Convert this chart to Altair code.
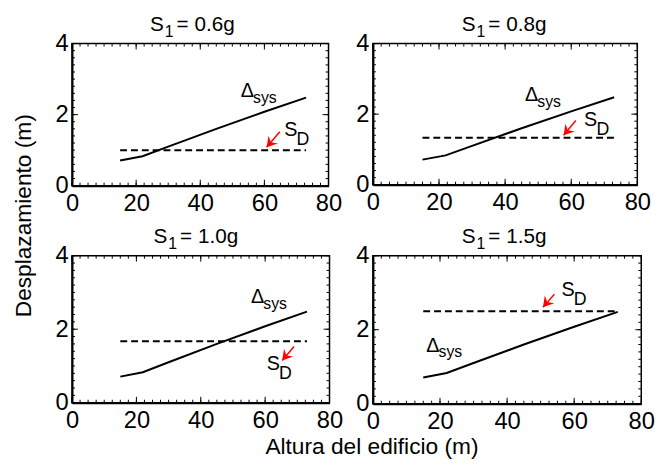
import altair as alt
import pandas as pd

FONT = "Arial, Liberation Sans, Helvetica, sans-serif"

# ---------------- data ----------------
heights = [15, 22, 30, 45, 60, 73]                   # Altura del edificio (m)
delta_sys = [0.71, 0.83, 1.10, 1.60, 2.08, 2.48]     # Δsys (m)
sd_x = [15, 73]
s1_labels = ["0.6g", "0.8g", "1.0g", "1.5g"]
sd_values = [1.0, 1.33, 1.67, 2.5]                   # S_D (m)

# annotation anchors (data coordinates)
delta_lab_x = [52.6, 46.0, 55.6, 15.9]
delta_lab_y = [2.50, 2.38, 2.72, 1.41]
sd_lab_x = [66.2, 63.9, 60.5, 56.2]
sd_lab_y = [1.39, 1.65, 0.89, 2.91]
arrow_tail_x = [64.8, 61.4, 69.0, 54.1]
arrow_tail_y = [1.52, 1.82, 1.53, 2.96]
arrow_tip_x = [60.7, 57.7, 65.3, 50.7]
arrow_tip_y = [1.08, 1.40, 1.15, 2.61]

x_major = [0, 20, 40, 60, 80]
y_major = [0, 2, 4]
x_minor = [i * 2.5 for i in range(33)]
y_minor = [round(i * 0.2, 2) for i in range(21)]

# ---------------- layout / style ----------------
widths = [260, 268, 261, 272]
heights_px = [144, 143, 149, 150]
title_off = [-7, 0, -4, -2]
ARROW = "M0,0 L-1,-0.6 L-0.65,0 L-1,0.6 Z"


def panel(i):
    W, H = widths[i], heights_px[i]
    xs = alt.Scale(domain=[0, 80], nice=False, zero=False)
    ys = alt.Scale(domain=[0, 4], nice=False, zero=False)
    xax = alt.Axis(values=x_major, title=None, ticks=False, grid=False,
                   domainColor="black", domainWidth=2, labelFontSize=24,
                   labelFont=FONT, labelColor="black", labelPadding=6,
                   labelFlush=False, labelOverlap=False)
    yax = alt.Axis(values=y_major, title=None, ticks=False, grid=False,
                   domainColor="black", domainWidth=2, labelFontSize=24,
                   labelFont=FONT, labelColor="black", labelPadding=4,
                   labelFlush=False, labelOverlap=False)

    def X(f):
        return alt.X(f, type="quantitative", scale=xs, axis=xax)

    def Y(f):
        return alt.Y(f, type="quantitative", scale=ys, axis=yax)

    line_df = pd.DataFrame({"h": heights, "d": delta_sys})
    sd_df = pd.DataFrame({"h": sd_x, "d": [sd_values[i]] * len(sd_x)})
    xmin_df = pd.DataFrame({"v": x_minor})
    xmaj_df = pd.DataFrame({"v": x_major})
    ymin_df = pd.DataFrame({"v": y_minor})
    ymaj_df = pd.DataFrame({"v": y_major})
    ann = pd.DataFrame({
        "lx": [delta_lab_x[i]], "ly": [delta_lab_y[i]],
        "sx": [sd_lab_x[i]], "sy": [sd_lab_y[i]],
        "tx": [arrow_tail_x[i]], "ty": [arrow_tail_y[i]],
        "px": [arrow_tip_x[i]], "py": [arrow_tip_y[i]],
    })

    layers = []
    layers.append(alt.Chart(line_df).mark_line(color="black", strokeWidth=2).encode(
        x=X("h"), y=Y("d")))
    layers.append(alt.Chart(sd_df).mark_line(color="black", strokeWidth=2, strokeDash=[7, 4]).encode(
        x=X("h"), y=Y("d")))
    for df, ln in ((xmin_df, 3), (xmaj_df, 6)):
        layers.append(alt.Chart(df).mark_rule(color="black", strokeWidth=1).encode(
            x=X("v"), y=alt.value(H), y2=alt.value(H - ln)))
        layers.append(alt.Chart(df).mark_rule(color="black", strokeWidth=1).encode(
            x=X("v"), y=alt.value(0), y2=alt.value(ln)))
    for df, ln in ((ymin_df, 3), (ymaj_df, 6)):
        layers.append(alt.Chart(df).mark_rule(color="black", strokeWidth=1).encode(
            y=Y("v"), x=alt.value(0), x2=alt.value(ln)))
        layers.append(alt.Chart(df).mark_rule(color="black", strokeWidth=1).encode(
            y=Y("v"), x=alt.value(W), x2=alt.value(W - ln)))
    layers.append(alt.Chart(ann).mark_text(text="Δ", align="left", baseline="alphabetic",
                                           fontSize=20, font=FONT, color="black").encode(
        x=X("lx"), y=Y("ly")))
    layers.append(alt.Chart(ann).mark_text(text="sys", align="left", baseline="alphabetic",
                                           fontSize=16, font=FONT, color="black", dx=12.5, dy=6).encode(
        x=X("lx"), y=Y("ly")))
    layers.append(alt.Chart(ann).mark_text(text="S", align="left", baseline="alphabetic",
                                           fontSize=20, font=FONT, color="black").encode(
        x=X("sx"), y=Y("sy")))
    layers.append(alt.Chart(ann).mark_text(text="D", align="left", baseline="alphabetic",
                                           fontSize=18, font=FONT, color="black", dx=12.5, dy=9).encode(
        x=X("sx"), y=Y("sy")))
    layers.append(alt.Chart(ann).mark_rule(color="red", strokeWidth=1.5).encode(
        x=X("tx"), y=Y("ty"), x2="px", y2="py"))
    layers.append(alt.Chart(ann).mark_point(shape=ARROW, size=420, angle=130, filled=True,
                                            color="red", opacity=1).encode(
        x=X("px"), y=Y("py")))
    x0 = W / 2 + title_off[i] - 44
    layers.append(alt.Chart(ann).mark_text(text="S", align="left", baseline="alphabetic",
                                           fontSize=21, font=FONT, color="black").encode(
        x=alt.value(x0), y=alt.value(-13)))
    layers.append(alt.Chart(ann).mark_text(text="1", align="left", baseline="alphabetic",
                                           fontSize=16, font=FONT, color="black").encode(
        x=alt.value(x0 + 15), y=alt.value(-7)))
    layers.append(alt.Chart(ann).mark_text(text="= " + s1_labels[i], align="left", baseline="alphabetic",
                                           fontSize=21, font=FONT, color="black").encode(
        x=alt.value(x0 + 27), y=alt.value(-13)))
    if i == 0:
        layers.append(alt.Chart(ann).mark_text(text="Desplazamiento (m)", angle=270, align="center",
                                               baseline="middle", fontSize=23, font=FONT,
                                               color="black").encode(
            x=alt.value(-49), y=alt.value(174.5)))
    if i == 2:
        layers.append(alt.Chart(ann).mark_text(text="Altura del edificio (m)", align="center",
                                               baseline="alphabetic", fontSize=23, font=FONT,
                                               color="black").encode(
            x=alt.value(304), y=alt.value(201)))
    return alt.layer(*layers).properties(width=W, height=H)


chart = alt.concat(
    panel(0), panel(1), panel(2), panel(3),
    columns=2, spacing={"row": 71, "column": 44}, bounds="flush", align="each",
).properties(
    padding={"left": 12, "top": 10, "right": 5, "bottom": 5},
    background="white",
).configure_view(stroke="black", strokeWidth=1.5)

chart.save("out.html", embed_options={"renderer": "svg", "actions": False})
